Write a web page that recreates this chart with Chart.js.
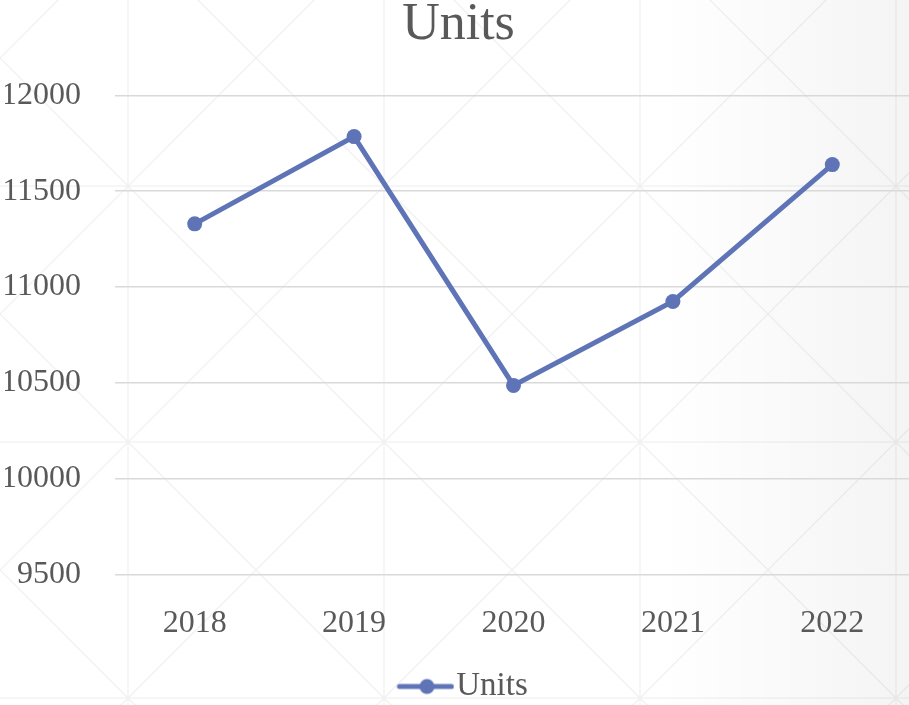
<!DOCTYPE html>
<html>
<head>
<meta charset="utf-8">
<script src="https://cdn.jsdelivr.net/npm/chart.js@4/dist/chart.umd.min.js"></script>
<style>
  html, body { margin: 0; padding: 0; overflow: hidden; background: #fff; }
</style>
</head>
<body>
<canvas id="chart" width="913" height="705"></canvas>
<script>
const years = ['2018', '2019', '2020', '2021', '2022'];
const units = [11330, 11785, 10487, 10925, 11639];
const yTicks = [9500, 10000, 10500, 11000, 11500, 12000];

const lineColor = '#5e74b6';
const textColor = '#595959';
const fontFamily = '"Liberation Serif", "DejaVu Serif", serif';

// legend marker: short line with a dot, pushed to the right of the box
const marker = document.createElement('canvas');
marker.width = 80;
marker.height = 18;
(function () {
  const c = marker.getContext('2d');
  c.strokeStyle = lineColor;
  c.lineWidth = 5;
  c.lineCap = 'round';
  c.beginPath(); c.moveTo(25, 9); c.lineTo(77, 9); c.stroke();
  c.fillStyle = lineColor;
  c.beginPath(); c.arc(52.5, 9, 7.5, 0, Math.PI * 2); c.fill();
})();

// faint office-style background texture
const texture = {
  id: 'texture',
  beforeDraw(chart) {
    const { ctx, width, height } = chart;
    ctx.save();
    ctx.fillStyle = '#fff';
    ctx.fillRect(0, 0, width, height);
    const g = ctx.createLinearGradient(660, 0, width, 0);
    g.addColorStop(0, 'rgba(0,0,0,0)');
    g.addColorStop(1, 'rgba(0,0,0,0.045)');
    ctx.fillStyle = g;
    ctx.fillRect(0, 0, width, height);
    ctx.strokeStyle = 'rgba(0,0,0,0.05)';
    ctx.lineWidth = 1.5;
    ctx.beginPath();
    for (let x = 128; x < width; x += 256) { ctx.moveTo(x, 0); ctx.lineTo(x, height); }
    for (let y = 186; y < height; y += 256) { ctx.moveTo(0, y); ctx.lineTo(width, y); }
    for (let c = 58 - 256 * 4; c < width + height; c += 256) {
      ctx.moveTo(0, c); ctx.lineTo(width, c + width);
      ctx.moveTo(0, c); ctx.lineTo(width, c - width);
    }
    ctx.stroke();
    ctx.restore();
  }
};

new Chart(document.getElementById('chart'), {
  type: 'line',
  data: {
    labels: years,
    datasets: [{
      label: 'Units',
      data: units,
      borderColor: lineColor,
      backgroundColor: lineColor,
      borderWidth: 5,
      pointRadius: 7.5,
      pointBackgroundColor: lineColor,
      pointBorderWidth: 0,
      tension: 0
    }]
  },
  options: {
    responsive: false,
    animation: false,
    layout: { autoPadding: false, padding: { left: 5, right: 1, top: 0, bottom: -8 } },
    plugins: {
      title: {
        display: true,
        text: 'Units',
        color: textColor,
        font: { family: fontFamily, size: 52, weight: 'normal' },
        padding: { top: -6, bottom: 39 }
      },
      legend: {
        position: 'bottom',
        labels: {
          usePointStyle: true,
          pointStyle: marker,
          pointStyleWidth: 50.5,
          color: textColor,
          font: { family: fontFamily, size: 33 },
          padding: 0
        }
      },
      tooltip: { enabled: false }
    },
    scales: {
      x: {
        offset: true,
        grid: { display: false },
        border: { display: false },
        afterFit(scale) { scale.height += 5; },
        ticks: { color: textColor, font: { family: fontFamily, size: 32 }, padding: 22 }
      },
      y: {
        min: 9500,
        max: 12000,
        afterBuildTicks(scale) { scale.ticks = yTicks.map(v => ({ value: v })); },
        afterFit(scale) { scale.width = 110; },
        grid: { color: '#d9d9d9', lineWidth: 1.5, drawTicks: false },
        border: { display: false },
        ticks: {
          color: textColor,
          font: { family: fontFamily, size: 32 },
          padding: 34,
          callback: v => String(v)
        }
      }
    }
  },
  plugins: [texture]
});
</script>
</body>
</html>
